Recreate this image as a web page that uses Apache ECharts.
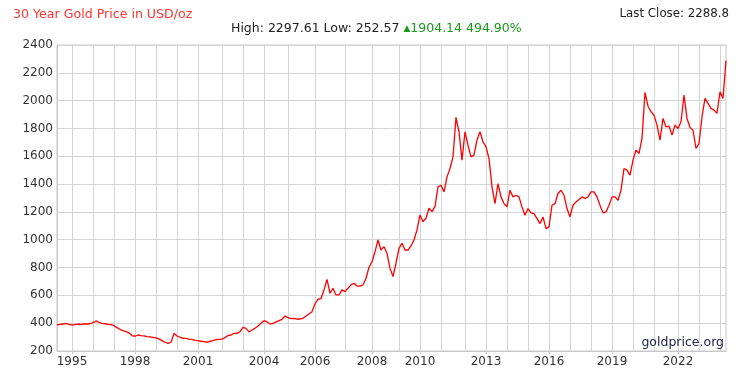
<!DOCTYPE html>
<html>
<head>
<meta charset="utf-8">
<script src="https://cdn.jsdelivr.net/npm/echarts@6/dist/echarts.min.js"></script>
<style>
  html, body { margin: 0; padding: 0; background: #fff; }
  #chart { width: 736px; height: 378px; }
</style>
</head>
<body>
<div id="chart"></div>
<script>
// gold price, USD/oz, sampled along the chart from 1994 to 2024
const prices = [
  387, 392, 394, 399, 392, 387, 389, 394, 392, 394, 394, 396,
  404, 416, 406, 399, 396, 392, 389, 382, 368, 356, 347, 339,
  330, 311, 306, 315, 311, 308, 303, 301, 298, 294, 287, 275,
  263, 255, 263, 327, 308, 299, 291, 291, 286, 284, 277, 274,
  270, 267, 263, 270, 274, 282, 284, 286, 296, 311, 315, 327,
  327, 339, 370, 363, 337, 351, 363, 380, 399, 418, 409, 394,
  399, 409, 418, 428, 452, 440, 433, 435, 430, 430, 435, 452,
  466, 483, 540, 572, 577, 639, 715, 615, 651, 603, 603, 639,
  627, 651, 675, 687, 667, 667, 675, 723, 802, 842, 914, 998,
  926, 950, 902, 794, 735, 831, 938, 974, 926, 926, 955, 998,
  1070, 1178, 1130, 1154, 1226, 1202, 1240, 1380, 1392, 1344, 1452, 1512,
  1596, 1880, 1776, 1572, 1776, 1680, 1596, 1608, 1716, 1776, 1704, 1668,
  1584, 1380, 1260, 1404, 1308, 1260, 1236, 1356, 1308, 1320, 1308, 1236,
  1176, 1224, 1193, 1188, 1152, 1116, 1164, 1080, 1092, 1248, 1260, 1332,
  1356, 1320, 1224, 1164, 1248, 1272, 1289, 1308, 1296, 1308, 1344, 1344,
  1308, 1248, 1193, 1200, 1248, 1308, 1308, 1284, 1356, 1512, 1500, 1464,
  1572, 1644, 1620, 1728, 2060, 1960, 1920, 1896, 1824, 1716, 1872, 1812,
  1817, 1752, 1824, 1800, 1848, 2040, 1872, 1807, 1788, 1656, 1692, 1884,
  2016, 1980, 1944, 1932, 1908, 2064, 2016, 2289
];

// sample index where each year starts (one grid line per year)
const yearStarts = [5, 12, 19, 26, 33, 40, 47, 55, 62, 69, 77, 86, 96, 105, 114,
  121, 128, 136, 143, 150, 157, 164, 171, 178, 185, 192, 199, 207, 214, 221];
const years = [1995, 1996, 1997, 1998, 1999, 2000, 2001, 2002, 2003, 2004, 2005, 2006, 2007, 2008, 2009,
  2010, 2011, 2012, 2013, 2014, 2015, 2016, 2017, 2018, 2019, 2020, 2021, 2022, 2023, 2024];
const labelYears = [1995, 1998, 2001, 2004, 2006, 2008, 2010, 2013, 2016, 2019, 2022];

const high = '2297.61';
const low = '252.57';
const change = '1904.14';
const changePct = '494.90%';
const lastClose = '2288.8';

const categories = prices.map((_, i) => String(i));
const labelIdx = labelYears.map(y => yearStarts[years.indexOf(y)]);

const chart = echarts.init(document.getElementById('chart'));
const family = "'DejaVu Sans', Verdana, sans-serif";

chart.setOption({
  animation: false,
  textStyle: { fontFamily: family },
  grid: {
    left: 57, right: 10, top: 45, bottom: 27,
    show: true, borderColor: '#c8c8c8', borderWidth: 1
  },
  graphic: [
    {
      type: 'text', left: 13, top: 8,
      style: { text: '30 Year Gold Price in USD/oz', fill: '#ff3333', font: '12.6px ' + family }
    },
    {
      type: 'text', left: 231, top: 22,
      style: {
        text: 'High: ' + high + ' Low: ' + low + ' {t|▲}{g|' + change + ' ' + changePct + '}',
        fill: '#222', font: '12.5px ' + family,
        rich: {
          t: { fill: '#1a9a1a', fontSize: 9, fontFamily: family },
          g: { fill: '#1a9a1a', fontSize: 12.5, fontFamily: family }
        }
      }
    },
    {
      type: 'text', right: 7, top: 8,
      style: { text: 'Last Close: ' + lastClose, fill: '#222', font: '11.8px ' + family }
    },
    {
      type: 'text', right: 12, top: 336, z: 10,
      style: { text: 'goldprice.org', fill: '#23234a', font: '12.5px ' + family }
    }
  ],
  xAxis: {
    type: 'category',
    data: categories,
    boundaryGap: false,
    axisLine: { lineStyle: { color: '#c8c8c8' } },
    axisTick: {
      show: true, length: 3,
      interval: (i) => labelIdx.includes(i),
      lineStyle: { color: '#c8c8c8' }
    },
    axisLabel: {
      interval: (i) => labelIdx.includes(i),
      formatter: (v, i) => String(years[yearStarts.indexOf(i)]),
      color: '#333', fontSize: 12, fontFamily: family, margin: 5
    },
    splitLine: {
      show: true,
      interval: (i) => yearStarts.includes(i),
      lineStyle: { color: '#d4d4d4', width: 1 }
    }
  },
  yAxis: {
    type: 'value',
    min: 200, max: 2400, interval: 200,
    axisLine: { show: true, lineStyle: { color: '#c8c8c8' } },
    axisTick: { show: false },
    axisLabel: {
      color: '#333', fontSize: 12, fontFamily: family, margin: 4,
      formatter: (v) => String(v)
    },
    splitLine: { lineStyle: { color: '#d4d4d4', width: 1 } }
  },
  series: [{
    type: 'line',
    data: prices,
    showSymbol: false,
    lineStyle: { color: '#ff0000', width: 1.3 },
    itemStyle: { color: '#ff0000' }
  }]
});
</script>
</body>
</html>
